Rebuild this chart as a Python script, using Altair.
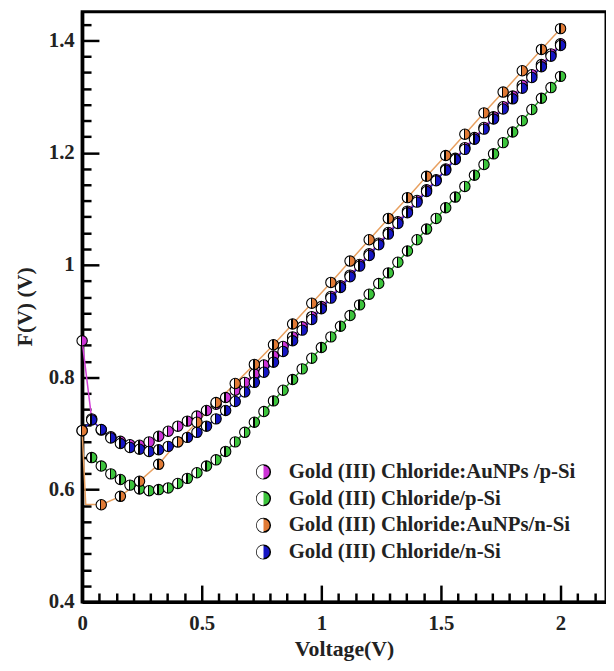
import altair as alt
import pandas as pd

SERIES = [
    "Gold (III) Chloride:AuNPs /p-Si",
    "Gold (III) Chloride/p-Si",
    "Gold (III) Chloride:AuNPs/n-Si",
    "Gold (III) Chloride/n-Si",
]
MARKER_COLORS = ["#cc33d6", "#3cc43c", "#e07a35", "#1616c4"]
LINE_COLORS = ["#d23fd8", "#2e9e2e", "#e8a060", "#2424cc"]

V_STEP = [0.0, 0.04, 0.08, 0.12, 0.16, 0.2, 0.24, 0.28, 0.32, 0.36, 0.4, 0.44, 0.48,
          0.52, 0.56, 0.6, 0.64, 0.68, 0.72, 0.76, 0.8, 0.84, 0.88, 0.92, 0.96, 1.0,
          1.04, 1.08, 1.12, 1.16, 1.2, 1.24, 1.28, 1.32, 1.36, 1.4, 1.44, 1.48, 1.52,
          1.56, 1.6, 1.64, 1.68, 1.72, 1.76, 1.8, 1.84, 1.88, 1.92, 1.96, 2.0]

F_AUNP_PSI = [0.865, 0.726, 0.706, 0.694, 0.686, 0.680, 0.679, 0.685, 0.695, 0.704,
              0.713, 0.722, 0.731, 0.741, 0.752, 0.764, 0.777, 0.791, 0.806, 0.822,
              0.838, 0.855, 0.872, 0.890, 0.908, 0.926, 0.944, 0.963, 0.982, 1.001,
              1.020, 1.039, 1.058, 1.077, 1.096, 1.115, 1.134, 1.152, 1.171, 1.190,
              1.209, 1.227, 1.245, 1.264, 1.282, 1.301, 1.320, 1.339, 1.357, 1.376, 1.394]

V_PSI = V_STEP[1:]
F_PSI = [0.657, 0.642, 0.628, 0.618, 0.608, 0.601, 0.598, 0.600, 0.603, 0.611,
         0.620, 0.630, 0.642, 0.653, 0.668, 0.685, 0.702, 0.720, 0.739, 0.758,
         0.777, 0.796, 0.815, 0.834, 0.853, 0.872, 0.891, 0.910, 0.929, 0.948,
         0.967, 0.986, 1.005, 1.025, 1.045, 1.064, 1.083, 1.102, 1.121, 1.140,
         1.160, 1.179, 1.198, 1.218, 1.237, 1.257, 1.277, 1.297, 1.316, 1.336]

V_AUNP_NSI = [0.0, 0.015, 0.08, 0.16, 0.24, 0.32, 0.4, 0.48, 0.56, 0.64, 0.72, 0.8,
              0.88, 0.96, 1.04, 1.12, 1.2, 1.28, 1.36, 1.44, 1.52, 1.6, 1.68, 1.76,
              1.84, 1.92, 2.0]
F_AUNP_NSI = [0.705, 0.574, 0.573, 0.588, 0.615, 0.645, 0.685, 0.720, 0.755, 0.789,
              0.823, 0.858, 0.895, 0.932, 0.969, 1.007, 1.045, 1.083, 1.120, 1.158,
              1.195, 1.233, 1.271, 1.308, 1.346, 1.384, 1.421]
MARK_AUNP_NSI = [True, False] + [True] * 25

F_NSI = [0.705, 0.724, 0.707, 0.692, 0.682, 0.675, 0.672, 0.668, 0.671, 0.677,
         0.685, 0.693, 0.702, 0.713, 0.726, 0.741, 0.757, 0.774, 0.791, 0.809,
         0.827, 0.846, 0.865, 0.884, 0.903, 0.922, 0.941, 0.960, 0.979, 0.998,
         1.017, 1.036, 1.055, 1.074, 1.093, 1.112, 1.131, 1.150, 1.169, 1.188,
         1.206, 1.224, 1.242, 1.260, 1.278, 1.296, 1.315, 1.334, 1.353, 1.372, 1.391]

X_MAJOR = [0, 0.5, 1, 1.5, 2]
Y_MAJOR = [0.4, 0.6, 0.8, 1.0, 1.2, 1.4]
X_MINOR = [k * 0.5 / 7 for k in range(1, 31) if k % 7]
Y_MINOR = [0.4 + k * 0.2 / 7 for k in range(1, 37) if k % 7]

rows = []
def add(name, vs, fs, marks=None):
    for i, (v, f) in enumerate(zip(vs, fs)):
        rows.append({"series": name, "half": name + " ", "V": v, "F": f,
                     "mark": True if marks is None else marks[i]})

add(SERIES[0], V_STEP, F_AUNP_PSI)
add(SERIES[1], V_PSI, F_PSI)
add(SERIES[2], V_AUNP_NSI, F_AUNP_NSI, MARK_AUNP_NSI)
add(SERIES[3], V_STEP, F_NSI)
df = pd.DataFrame(rows)

FONT = "Liberation Serif"
TXT = "#222222"
XS = alt.Scale(domain=[0, 2.19], nice=False, zero=False)
YS = alt.Scale(domain=[0.4, 1.451], nice=False, zero=False)
HALF_PATH = "M0,-1 A1,1 0 0,0 0,1 Z"

x_lab = alt.Axis(orient="bottom", values=X_MAJOR, format="~g", ticks=False, tickSize=0,
                 grid=False, domain=True, domainColor="black", domainWidth=3.5,
                 labelFont=FONT, labelFontSize=21, labelFontWeight="bold", labelColor=TXT,
                 labelPadding=11, labelFlush=False, title="Voltage(V)", titleFont=FONT,
                 titleFontSize=22, titleFontWeight="bold", titleColor=TXT, titleX=265,
                 titleY=47, titleBaseline="middle", titleAlign="center")
y_lab = alt.Axis(orient="left", values=Y_MAJOR, format="~g", ticks=False, tickSize=0,
                 grid=False, domain=True, domainColor="black", domainWidth=3.5,
                 labelFont=FONT, labelFontSize=21, labelFontWeight="bold", labelColor=TXT,
                 labelPadding=8, labelFlush=False, title="F(V) (V)", titleFont=FONT,
                 titleFontSize=22, titleFontWeight="bold", titleColor=TXT, titleX=-58,
                 titleY=298, titleAngle=270, titleBaseline="middle", titleAlign="center")

def tick_axis(orient, values, size):
    return alt.Axis(orient=orient, values=values, labels=False, domain=False, grid=False,
                    ticks=True, tickSize=size, tickWidth=2.5, tickColor="black",
                    offset=-size, title=None)

base = alt.Chart(df)

axis_layer = base.mark_point(opacity=0).encode(
    x=alt.X("V:Q", scale=XS, axis=x_lab),
    y=alt.Y("F:Q", scale=YS, axis=y_lab),
)
major = base.mark_point(opacity=0).encode(
    x=alt.X("V:Q", scale=XS, axis=tick_axis("bottom", X_MAJOR, 17)),
    y=alt.Y("F:Q", scale=YS, axis=tick_axis("left", Y_MAJOR, 17)),
)
minor = base.mark_point(opacity=0).encode(
    x=alt.X("V:Q", scale=XS, axis=tick_axis("bottom", X_MINOR, 9)),
    y=alt.Y("F:Q", scale=YS, axis=tick_axis("left", Y_MINOR, 9)),
)

line_layers = []
for i, name in enumerate(SERIES):
    line_layers.append(
        base.transform_filter(alt.datum.series == name)
        .mark_line(strokeWidth=1.5, stroke=LINE_COLORS[i])
        .encode(
            x=alt.X("V:Q", scale=XS, axis=None),
            y=alt.Y("F:Q", scale=YS, axis=None),
            order=alt.Order("V:Q"),
        )
    )

def half(color):
    return {"gradient": "linear", "x1": 0, "y1": 0, "x2": 1, "y2": 0,
            "stops": [{"offset": 0, "color": "#ffffff"}, {"offset": 0.38, "color": "#ffffff"},
                      {"offset": 0.38, "color": "#000000"}, {"offset": 0.52, "color": "#000000"},
                      {"offset": 0.52, "color": color}, {"offset": 1, "color": color}]}

draw_order = [1, 0, 3, 2]
markers = []
for i in draw_order:
    markers.append(
        base.transform_filter(
            (alt.datum.series == SERIES[i]) & (alt.datum.mark == True)
        ).mark_point(shape="circle", size=110, filled=True, fill=half(MARKER_COLORS[i]),
                     stroke="black", strokeWidth=1.1, opacity=1).encode(
            x=alt.X("V:Q", scale=XS, axis=None),
            y=alt.Y("F:Q", scale=YS, axis=None),
        )
    )

LEG_X, LEG_Y, LEG_ROWPAD, LEG_SIZE = 173, 455, 5, 190

def legend(zindex, opacity, fillcolor=None):
    kw = dict(orient="none", legendX=LEG_X, legendY=LEG_Y, title=None, zindex=zindex,
              labelFont=FONT, labelFontSize=21, labelFontWeight="bold",
              labelColor=TXT, labelOpacity=opacity, labelLimit=500, labelOffset=15,
              symbolSize=LEG_SIZE, symbolStrokeColor="black", symbolStrokeWidth=1.5,
              symbolOpacity=1, rowPadding=LEG_ROWPAD, padding=0)
    if fillcolor:
        kw["symbolFillColor"] = fillcolor
    return alt.Legend(**kw)

legend_color = base.mark_circle(size=0, opacity=1).encode(
    x=alt.X("V:Q", scale=XS, axis=None),
    y=alt.Y("F:Q", scale=YS, axis=None),
    color=alt.Color("series:N", scale=alt.Scale(domain=SERIES, range=MARKER_COLORS),
                    legend=legend(1, 1)),
)
legend_half = base.mark_point(size=0, opacity=1, filled=True, fill="#ffffff").encode(
    x=alt.X("V:Q", scale=XS, axis=None),
    y=alt.Y("F:Q", scale=YS, axis=None),
    shape=alt.Shape("half:N", scale=alt.Scale(domain=[s + " " for s in SERIES],
                                              range=[HALF_PATH] * 4),
                    legend=legend(2, 0, "#ffffff")),
)

chart = alt.layer(axis_layer, major, minor, *line_layers, *markers,
                  legend_color, legend_half).resolve_axis(
    x="independent", y="independent"
).properties(
    width=530, height=597,
    autosize=alt.AutoSizeParams(type="none"),
    padding={"left": 75, "top": 0, "right": 0, "bottom": 60},
    background="white",
).configure_view(stroke="black", strokeWidth=3)

chart.save("out.html", embed_options={"renderer": "svg", "actions": False})
